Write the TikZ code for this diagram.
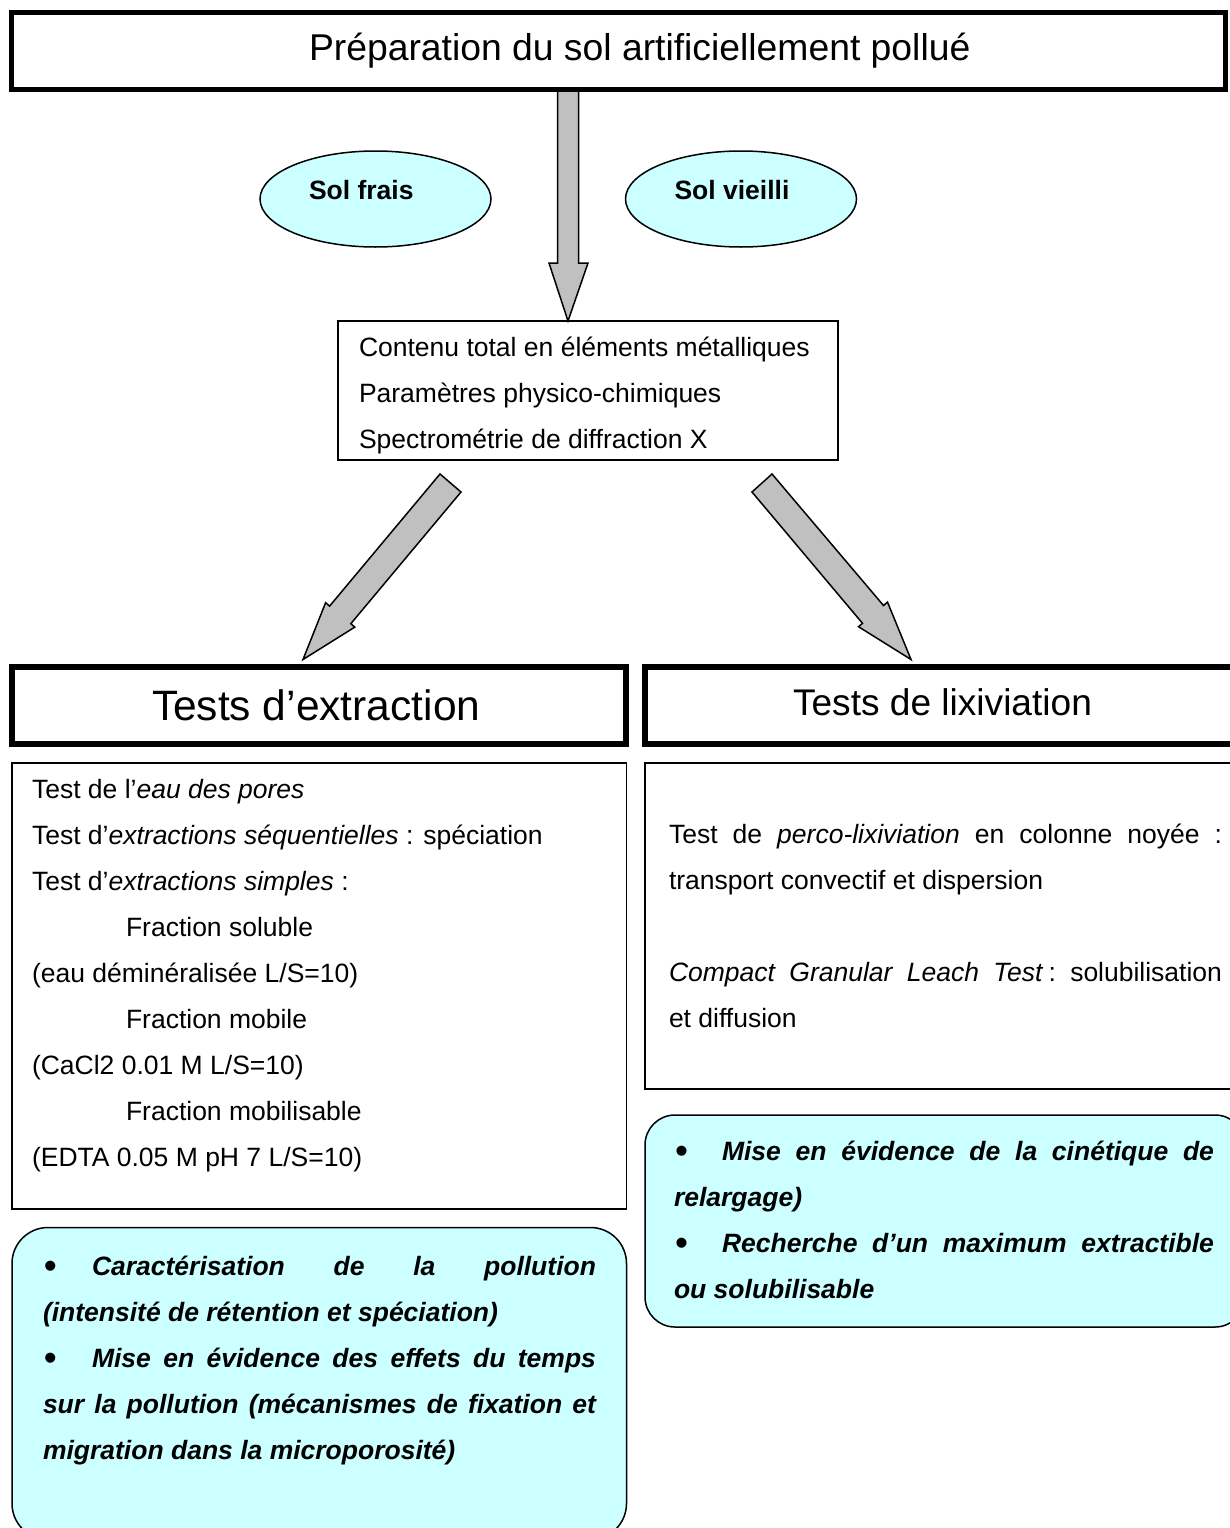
\documentclass[tikz,border=0pt]{standalone}
\usepackage{fontspec}
\usepackage{graphicx}
\setmainfont{Liberation Sans}
\usetikzlibrary{shapes.geometric}
\definecolor{cyanfill}{HTML}{CCFFFF}
\definecolor{arrowgrey}{HTML}{C0C0C0}
\newcommand{\bulA}[1]{\makebox[#1][l]{\hspace*{1pt}\raisebox{-3.5pt}{\scalebox{1.4}{\normalfont\textbullet}}}}
\begin{document}
\begin{tikzpicture}[x=1pt,y=-1pt,
  thickbox/.style={draw, line width=5pt, inner sep=0pt, outer sep=0pt, anchor=north west},
  thinbox/.style={draw, line width=1.5pt, inner sep=0pt, outer sep=0pt, anchor=north west},
  cyanbox/.style={draw, fill=cyanfill, line width=1.5pt, inner sep=0pt, outer sep=0pt, anchor=north west},
  ell/.style={ellipse, draw, fill=cyanfill, line width=1.5pt, inner sep=0pt, minimum width=231pt, minimum height=96pt},
  blockarrow/.style={draw, fill=arrowgrey, line width=1.5pt, line join=miter},
  lbl/.style={inner sep=0pt, outer sep=0pt, anchor=base west},
  body/.style={inner sep=0pt, outer sep=0pt, anchor=north west, font=\fontsize{26.5pt}{46pt}\selectfont},
  bull/.style={inner sep=0pt, outer sep=0pt, anchor=north west, align=justify, font=\fontsize{26.5pt}{46pt}\selectfont\bfseries\itshape}
]
\useasboundingbox (0,0) rectangle (1230,1528);
\clip (0,0) rectangle (1230,1528);
\fill[white] (0,0) rectangle (1230,1528);

% block arrows
\draw[blockarrow] (557.5,89) -- (557.5,263) -- (549,263) -- (568,321) -- (588,263) -- (578.5,263) -- (578.5,89) -- cycle;
\draw[blockarrow] (440,474) -- (329.6,606.1) -- (325.6,602.7) -- (303,659.5) -- (354.8,627.1) -- (350.8,623.7) -- (461,492) -- cycle;
\draw[blockarrow] (772,474) -- (883.5,605.5) -- (887.5,602.1) -- (911,659.5) -- (858.5,626.7) -- (862.5,623.3) -- (752,492) -- cycle;

% top box
\node[thickbox, minimum width=1214pt, minimum height=76.5pt] (prep) at (11,13) {};
\node[lbl, font=\fontsize{37.3pt}{44pt}\selectfont] (preptxt) at (309,61) {Préparation du sol artificiellement pollué};

% ellipses
\node[ell] (frais) at (375.5,199) {};
\node[lbl, font=\fontsize{26.5pt}{32pt}\selectfont\bfseries] (fraistxt) at (309,199.3) {Sol frais};
\node[ell] (vieilli) at (741,199) {};
\node[lbl, font=\fontsize{26.5pt}{32pt}\selectfont\bfseries] (vieillitxt) at (674.5,199.3) {Sol vieilli};

% middle box
\node[thinbox, minimum width=500pt, minimum height=139pt] (carac) at (338,321) {};
\node[body, align=left] (caractxt) at (359,323.9) {\strut Contenu total en éléments métalliques\\Paramètres physico-chimiques\\Spectrométrie de diffraction X};

% header boxes
\node[draw, line width=6pt, inner sep=0pt, outer sep=0pt, anchor=north west, minimum width=614pt, minimum height=77pt] (extr) at (11.5,667) {};
\node[lbl, font=\fontsize{42.5pt}{50pt}\selectfont] (extrtxt) at (152,720) {Tests d’extraction};
\node[draw, line width=6pt, inner sep=0pt, outer sep=0pt, anchor=north west, minimum width=600pt, minimum height=77pt] (lixi) at (645,667) {};
\node[lbl, font=\fontsize{37.1pt}{44pt}\selectfont] (lixitxt) at (793,715) {Tests de lixiviation};

% content boxes
\node[thinbox, minimum width=614.5pt, minimum height=446pt] (extrbox) at (12,763) {};
\node[body, align=left] (extrbody) at (32,765.9) {\strut Test de l’\textit{eau des pores}\\
Test d’\textit{extractions séquentielles} : spéciation\\
Test d’\textit{extractions simples} :\\
\hspace*{94pt}Fraction soluble\\
(eau déminéralisée L/S=10)\\
\hspace*{94pt}Fraction mobile\\
(CaCl2 0.01 M L/S=10)\\
\hspace*{94pt}Fraction mobilisable\\
(EDTA 0.05 M pH 7 L/S=10)};

\node[thinbox, minimum width=610pt, minimum height=326pt] (lixibox) at (645,763) {};
\node[body, align=justify, text width=553pt] (lixibody) at (669,810.9) {\strut Test de \textit{perco-lixiviation} en colonne noyée~:\linebreak transport convectif et dispersion\par\vspace{46pt}\textit{Compact Granular Leach Test}\hspace{5pt}:\ solubilisation\linebreak et diffusion};

% cyan conclusion boxes
\node[cyanbox, rounded corners=36pt, minimum width=614.5pt, minimum height=312pt] (extrconc) at (12,1227.5) {};
\node[bull, text width=553pt] (extrconctxt) at (43,1242.9) {\strut\bulA{49pt}Caractérisation de la pollution\linebreak (intensité de rétention et spéciation)\par\bulA{49pt}Mise en évidence des effets du temps\linebreak sur la pollution (mécanismes de fixation et\linebreak migration dans la microporosité)};

\node[cyanbox, rounded corners=30pt, minimum width=600pt, minimum height=212pt] (lixiconc) at (645,1115) {};
\node[bull, text width=540pt] (lixiconctxt) at (674,1127.9) {\strut\bulA{48pt}Mise en évidence de la cinétique de\linebreak relargage)\par\bulA{48pt}Recherche d’un maximum extractible\linebreak ou solubilisable};
\end{tikzpicture}
\end{document}
